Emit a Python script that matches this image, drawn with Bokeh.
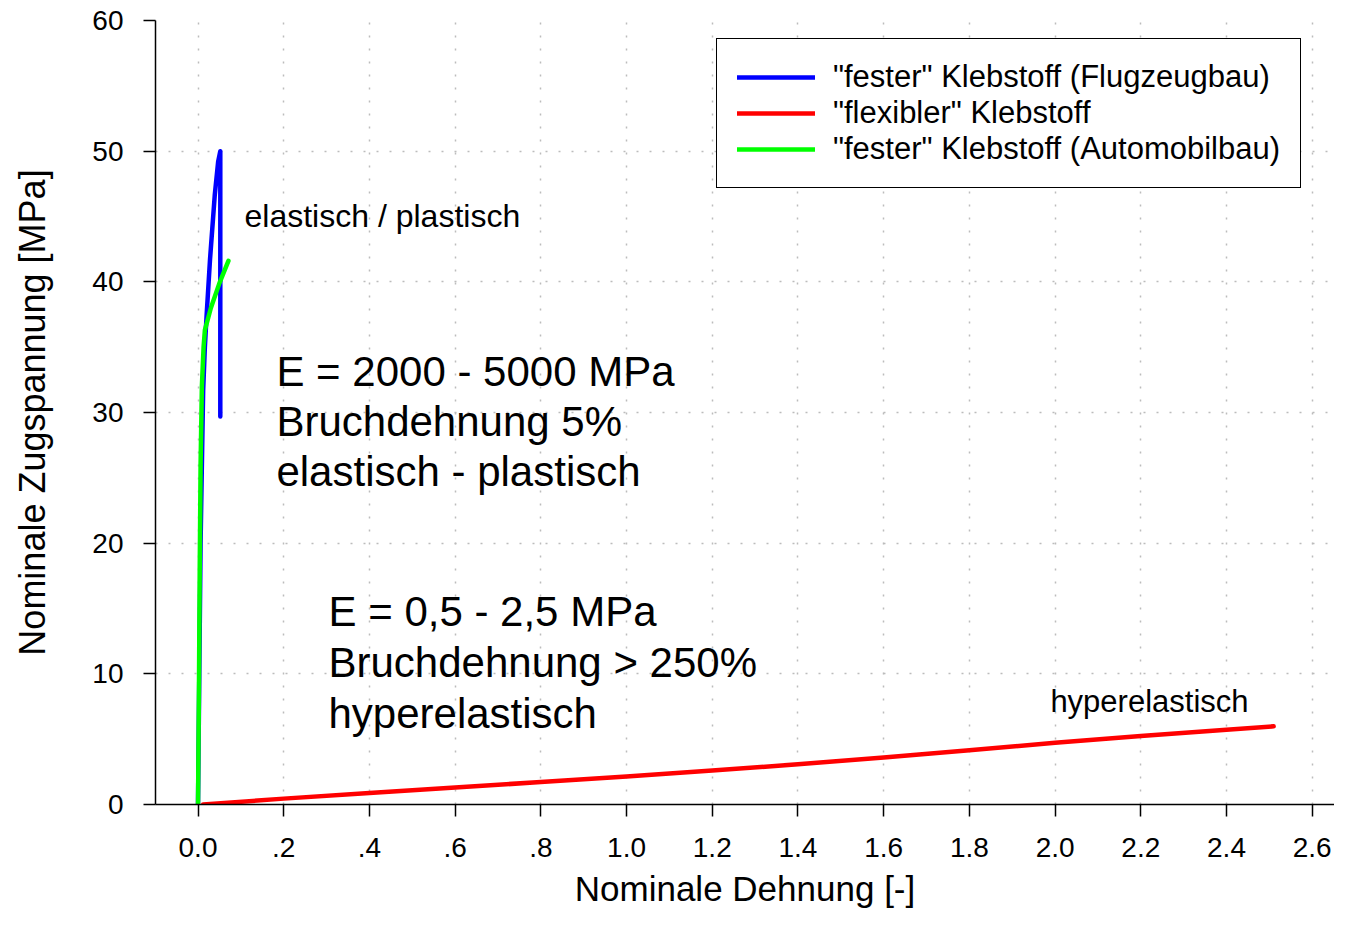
from bokeh.plotting import figure
from bokeh.models import Range1d, FixedTicker, Label, Legend
from bokeh.embed import file_html
from bokeh.resources import INLINE

FONT = "Liberation Sans"

# ---- data ----
blue_strain = [0.0, 0.003, 0.006, 0.0085, 0.012, 0.016, 0.020, 0.028, 0.039, 0.047, 0.052, 0.052]
blue_stress = [0.0, 10.0, 20.0, 25.0, 31.7, 35.0, 37.4, 41.7, 46.6, 49.2, 50.0, 29.7]

red_strain = [0.012, 0.2, 0.4, 0.6, 0.8, 1.0, 1.2, 1.4, 1.6, 1.8, 2.0, 2.2, 2.4, 2.51]
red_stress = [0.0, 0.45, 0.88, 1.3, 1.72, 2.15, 2.6, 3.08, 3.6, 4.15, 4.72, 5.25, 5.72, 5.98]

green_strain = [0.0, 0.002, 0.004, 0.006, 0.009, 0.013, 0.016, 0.03, 0.05, 0.066, 0.071]
green_stress = [0.0, 8.0, 18.0, 26.0, 32.0, 35.0, 36.3, 38.0, 39.9, 41.2, 41.6]

series_names = ['"fester" Klebstoff (Flugzeugbau)', '"flexibler" Klebstoff', '"fester" Klebstoff (Automobilbau)']

x_ticks = [0.0, 0.2, 0.4, 0.6, 0.8, 1.0, 1.2, 1.4, 1.6, 1.8, 2.0, 2.2, 2.4, 2.6]
x_tick_labels = ["0.0", ".2", ".4", ".6", ".8", "1.0", "1.2", "1.4", "1.6", "1.8", "2.0", "2.2", "2.4", "2.6"]
y_ticks = [0, 10, 20, 30, 40, 50, 60]

x_title = "Nominale Dehnung [-]"
y_title = "Nominale Zugspannung [MPa]"

block1 = ["E = 2000 - 5000  MPa", "Bruchdehnung 5%", "elastisch - plastisch"]
block2 = ["E = 0,5 - 2,5  MPa", "Bruchdehnung > 250%", "hyperelastisch"]

# ---- figure ----
p = figure(width=1334, height=910, output_backend="svg", toolbar_location=None,
           x_range=Range1d(-0.0992, 2.652), y_range=Range1d(0, 60),
           min_border_left=155, min_border_right=0, min_border_top=20, min_border_bottom=106)
p.outline_line_color = None
p.background_fill_color = "white"
p.border_fill_color = "white"

r_blue = p.line(blue_strain, blue_stress, line_color="#0000FF", line_width=4.5, line_join="round", line_cap="round")
r_red = p.line(red_strain, red_stress, line_color="#FF0000", line_width=4.5, line_join="round", line_cap="round")
r_green = p.line(green_strain, green_stress, line_color="#00FF00", line_width=4.5, line_join="round", line_cap="round")

# axes
p.xaxis.ticker = FixedTicker(ticks=x_ticks)
p.xaxis.major_label_overrides = {t: l for t, l in zip(x_ticks, x_tick_labels)}
p.yaxis.ticker = FixedTicker(ticks=y_ticks)
for ax in (p.xaxis, p.yaxis):
    ax.axis_line_color = "black"
    ax.axis_line_width = 1.5
    ax.major_tick_line_color = "black"
    ax.major_tick_line_width = 1.5
    ax.major_tick_out = 12
    ax.major_tick_in = 0
    ax.minor_tick_line_color = None
    ax.major_label_text_font = FONT
    ax.major_label_text_font_size = "28px"
    ax.major_label_text_color = "black"
    ax.axis_label_text_font = FONT
    ax.axis_label_text_font_style = "normal"
    ax.axis_label_text_color = "black"

p.xaxis.axis_label = x_title
p.yaxis.axis_label = y_title
p.xaxis.axis_label_text_font_size = "35px"
p.yaxis.axis_label_text_font_size = "36px"
p.xaxis.major_label_standoff = 21
p.yaxis.major_label_standoff = 20
p.xaxis.axis_label_standoff = 9
p.yaxis.axis_label_standoff = 36

# grid
for g in (p.xgrid, p.ygrid):
    g.grid_line_color = "#bcbcbc"
    g.grid_line_width = 1.5
    g.grid_line_dash = "2 11"
p.xgrid.ticker = FixedTicker(ticks=x_ticks)
p.ygrid.ticker = FixedTicker(ticks=y_ticks)

# legend
legend = Legend(items=[(series_names[0], [r_blue]), (series_names[1], [r_red]), (series_names[2], [r_green])],
                location=(561, 616))
legend.border_line_color = "black"
legend.border_line_alpha = 1.0
legend.border_line_width = 1.5
legend.background_fill_color = "white"
legend.background_fill_alpha = 1.0
legend.label_text_font = FONT
legend.label_text_font_size = "31px"
legend.label_text_color = "black"
legend.glyph_width = 78
legend.glyph_height = 30
legend.label_height = 30
legend.label_standoff = 18
legend.padding = 20
legend.spacing = 0
legend.margin = 0
p.add_layout(legend, "center")

# annotations
def add_text(x, y, txt, size):
    p.add_layout(Label(x=x, y=y, text=txt, text_font=FONT, text_font_size=size,
                       text_color="black", text_baseline="alphabetic", text_align="left"))

add_text(0.1085, 45.05, "elastisch / plastisch", "32px")
add_text(1.989, 7.9, "hyperelastisch", "31px")

for txt, yy in zip(block1, [33.1, 29.3, 25.45]):
    add_text(0.183, yy, txt, "42px")
for txt, yy in zip(block2, [14.75, 10.85, 6.95]):
    add_text(0.3045, yy, txt, "42px")

open("out.html", "w").write(file_html(p, INLINE))
